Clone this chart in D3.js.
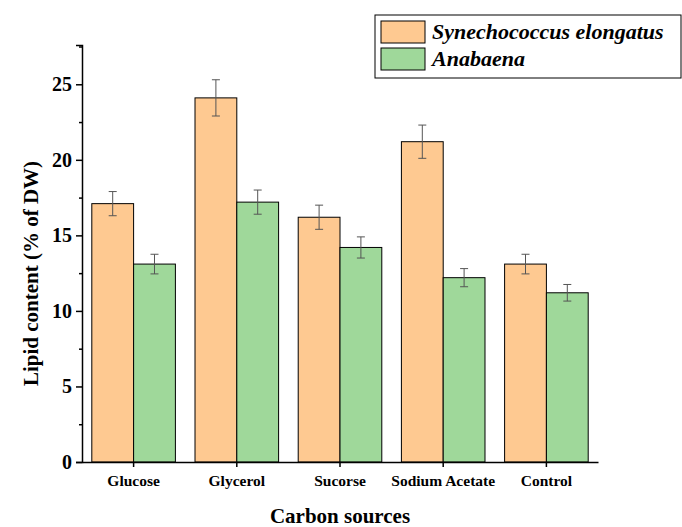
<!DOCTYPE html>
<html><head><meta charset="utf-8">
<script src="https://cdn.jsdelivr.net/npm/d3@7"></script>
<style>body{margin:0;background:#fff}text{font-family:"Liberation Serif","Times New Roman",serif;font-weight:bold}</style>
</head><body>
<script>
const categories = ["Glucose", "Glycerol", "Sucorse", "Sodium Acetate", "Control"];
const seriesNames = ["Synechococcus elongatus", "Anabaena"];
const synValues = [17.1, 24.1, 16.2, 21.2, 13.1];
const synErrors = [0.8, 1.2, 0.8, 1.1, 0.65];
const anaValues = [13.1, 17.2, 14.2, 12.2, 11.2];
const anaErrors = [0.65, 0.8, 0.7, 0.6, 0.55];
const yTicks = [0, 5, 10, 15, 20, 25];
const colors = ["#fec991", "#9fd89a"];

const W = 682, H = 527;
const m = {left: 82, right: 84, top: 45, bottom: 65};
const svg = d3.select("body").append("svg").attr("width", W).attr("height", H);

const x = d3.scaleBand().domain(categories).range([m.left, W - m.right]).paddingInner(0.19).paddingOuter(0.095);
const xs = d3.scaleBand().domain([0, 1]).range([0, x.bandwidth()]);
const y = d3.scaleLinear().domain([0, 27.6]).range([H - m.bottom, m.top]);

const series = [
  {vals: synValues, errs: synErrors},
  {vals: anaValues, errs: anaErrors}
];

series.forEach((s, si) => {
  const g = svg.append("g");
  categories.forEach((c, i) => {
    const x0 = x(c) + xs(si), bw = xs.bandwidth();
    g.append("rect").attr("x", x0).attr("y", y(s.vals[i]))
      .attr("width", bw).attr("height", y(0) - y(s.vals[i]))
      .attr("fill", colors[si]).attr("stroke", "#000").attr("stroke-width", 1);
    const cx = x0 + bw / 2, top = y(s.vals[i] + s.errs[i]), bot = y(s.vals[i] - s.errs[i]);
    g.append("line").attr("x1", cx).attr("x2", cx).attr("y1", top).attr("y2", bot).attr("stroke", "#555");
    [top, bot].forEach(v => g.append("line").attr("x1", cx - 4).attr("x2", cx + 4)
      .attr("y1", v).attr("y2", v).attr("stroke", "#555"));
  });
});

// axes
const yAxis = svg.append("g").attr("transform", `translate(${m.left},0)`)
  .call(d3.axisLeft(y).tickValues(yTicks).tickSize(6).tickPadding(4));
yAxis.selectAll("text").style("font-size", "20px");
svg.append("g").attr("transform", `translate(${m.left},0)`)
  .call(d3.axisLeft(y).tickValues(d3.range(2.5, 27.6, 5)).tickSize(3).tickFormat(""))
  .select(".domain").remove();
const xAxis = svg.append("g").attr("transform", `translate(0,${H - m.bottom})`)
  .call(d3.axisBottom(x).tickSize(5).tickPadding(8).tickSizeOuter(0));
xAxis.selectAll("text").style("font-size", "15.5px");
svg.selectAll(".domain, .tick line").attr("stroke", "#000").attr("stroke-width", 1.5);

svg.append("text").attr("transform", `translate(38,${(m.top + H - m.bottom) / 2 + 20}) rotate(-90)`)
  .attr("text-anchor", "middle").style("font-size", "21px").text("Lipid content (% of DW)");
svg.append("text").attr("x", (m.left + W - m.right) / 2).attr("y", 523)
  .attr("text-anchor", "middle").style("font-size", "21px").text("Carbon sources");

// legend
const lg = svg.append("g");
lg.append("rect").attr("x", 375).attr("y", 15).attr("width", 306).attr("height", 63)
  .attr("fill", "#fff").attr("stroke", "#000");
seriesNames.forEach((n, i) => {
  lg.append("rect").attr("x", 381).attr("y", 21 + i * 27).attr("width", 44).attr("height", 22)
    .attr("fill", colors[i]).attr("stroke", "#000");
  lg.append("text").attr("x", 432).attr("y", 39 + i * 27).style("font-size", "22px")
    .style("font-style", "italic").text(n);
});
</script>
</body></html>
